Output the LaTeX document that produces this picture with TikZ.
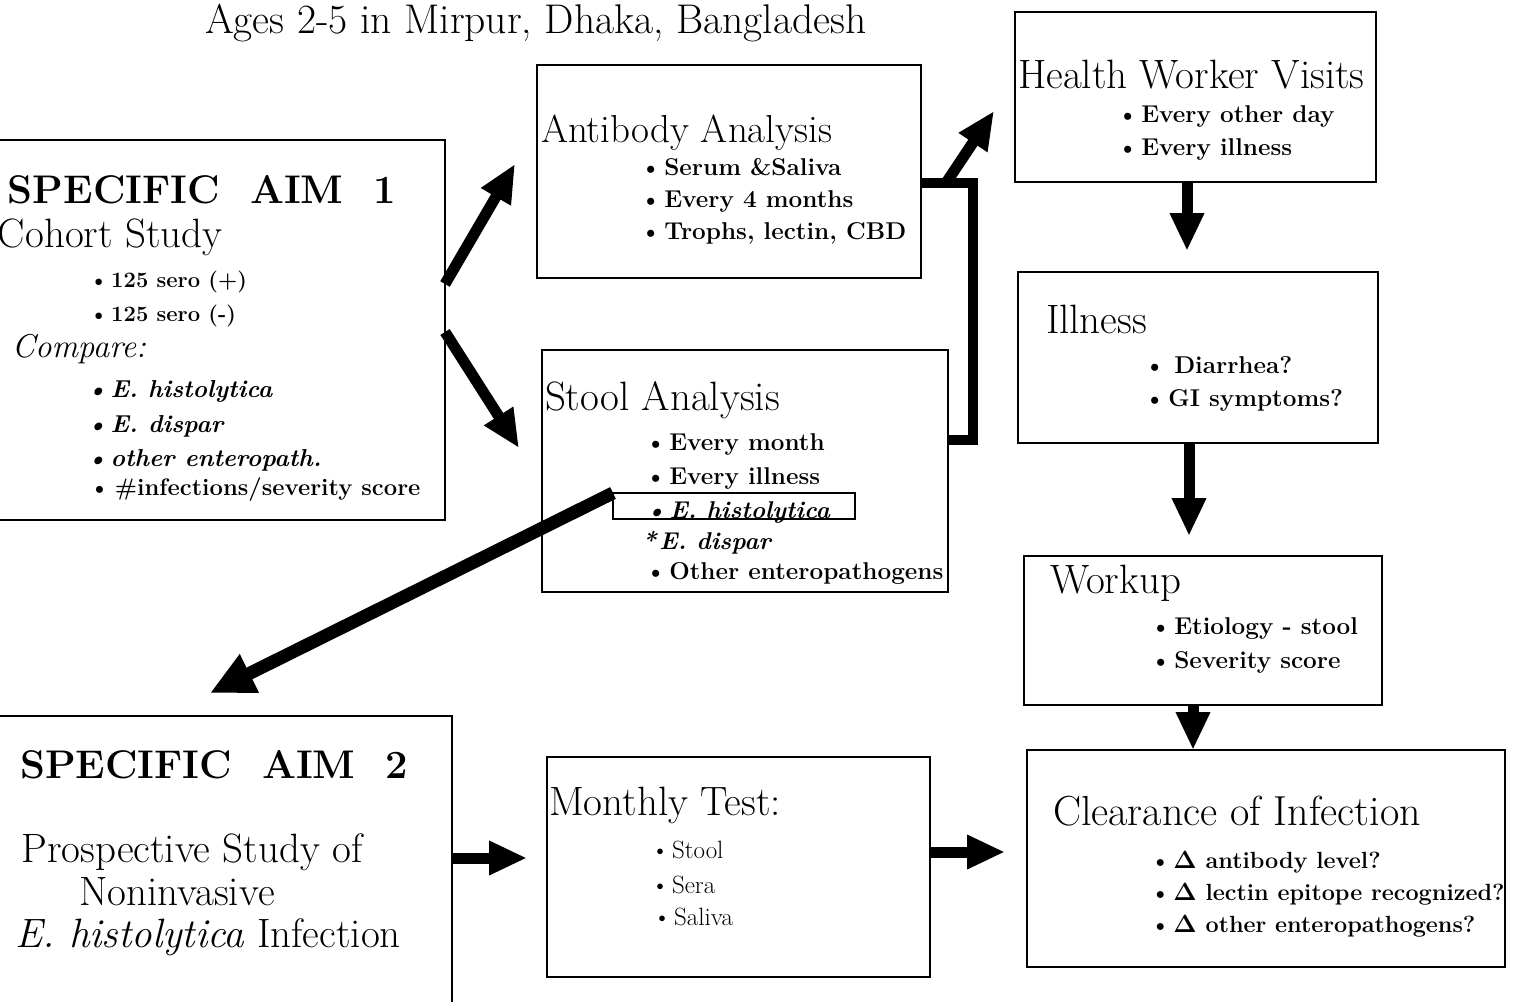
\documentclass[tikz,border=0pt]{standalone}
\usetikzlibrary{arrows.meta}
\newcommand\bu{\textbullet\kern3pt}
\begin{document}
\begin{tikzpicture}[x=1pt,y=-1pt,
  box/.style={draw, line width=2.2pt, anchor=north west, inner sep=0pt, outer sep=0pt},
  hlbox/.style={draw, line width=1.8pt, anchor=north west, inner sep=0pt, outer sep=0pt},
  txt/.style={anchor=base west, inner sep=0pt, outer sep=0pt},
  ctxt/.style={anchor=base, inner sep=0pt, outer sep=0pt, font=\fontsize{41}{44}\selectfont},
  title/.style={txt, font=\fontsize{41.5}{44}\selectfont},
  aim/.style={txt, font=\fontsize{40}{44}\selectfont\bfseries},
  hd/.style={txt, font=\fontsize{41}{44}\selectfont},
  bl/.style={txt, font=\fontsize{24.3}{27}\selectfont\bfseries},
  cbl/.style={txt, font=\fontsize{23.4}{26}\selectfont\bfseries},
  sbl/.style={txt, font=\fontsize{22}{24}\selectfont\bfseries},
  ibl/.style={txt, font=\fontsize{24.5}{27}\selectfont\bfseries\itshape},
  mbl/.style={txt, font=\fontsize{25}{28}\selectfont},
  arr/.style={line width=11pt, line cap=butt, -{Triangle[width=32pt,length=38pt]}},
  arrL/.style={line width=13pt, line cap=butt, -{Triangle[width=40pt,length=44pt]}},
  conn/.style={line width=10pt, line cap=butt, line join=miter}
]
\fill[white] (0,0) rectangle (1514,1001);
\useasboundingbox (0,0) rectangle (1514,1001);

% ---------- boxes ----------
\node[box, minimum width=465pt, minimum height=380pt] (aim1) at (-20,140) {};
\node[box, minimum width=384pt, minimum height=213pt] (ab)   at (537,65) {};
\node[box, minimum width=406pt, minimum height=242pt] (st)   at (542,350) {};
\node[hlbox, minimum width=242pt, minimum height=26pt] (hl)  at (613,493) {};
\node[box, minimum width=361pt, minimum height=170pt] (hw)   at (1015,12) {};
\node[box, minimum width=360pt, minimum height=171pt] (ill)  at (1018,272) {};
\node[box, minimum width=358pt, minimum height=149pt] (wk)   at (1024,556) {};
\node[box, minimum width=478pt, minimum height=217pt] (cl)   at (1027,750) {};
\node[box, minimum width=472pt, minimum height=310pt] (aim2) at (-20,716) {};
\node[box, minimum width=383pt, minimum height=220pt] (mt)   at (547,757) {};

% ---------- title ----------
\node[title] (ttl) at (205,33) {Ages 2-5 in Mirpur, Dhaka, Bangladesh};

% ---------- Specific aim 1 ----------
\node[aim] (a1h) at (8,203) {SPECIFIC\ \ AIM\ \ 1};
\node[hd] (a1s) at (-2,247) {Cohort Study};
\node[sbl] (a1b1) at (89,287) {\bu 125 sero (+)};
\node[sbl] (a1b2) at (89,321) {\bu 125 sero (-)};
\node[txt, font=\fontsize{33}{36}\selectfont\itshape] (a1c) at (12,357) {Compare:};
\node[ibl] (a1b3) at (86,397) {\bu E. histolytica};
\node[ibl] (a1b4) at (86,432) {\bu E. dispar};
\node[ibl] (a1b5) at (86,466) {\bu other enteropath.};
\node[txt, font=\fontsize{23.8}{26}\selectfont\bfseries] (a1b6) at (89,495) {\bu\kern2pt\#infections/severity score};

% ---------- Antibody analysis ----------
\node[hd, font=\fontsize{39}{42}\selectfont] (abh) at (541,142) {Antibody Analysis};
\node[bl] (ab1) at (640,175) {\bu Serum \&Saliva};
\node[bl] (ab2) at (640,207) {\bu Every 4 months};
\node[bl] (ab3) at (640,239) {\bu Trophs, lectin, CBD};

% ---------- Stool analysis ----------
\node[hd] (sth) at (545,410) {Stool Analysis};
\node[bl] (st1) at (645,450) {\bu Every month};
\node[bl] (st2) at (645,484) {\bu Every illness};
\node[ibl, font=\fontsize{24.3}{27}\selectfont\bfseries\itshape] (st3) at (645,518) {\bu E. histolytica};
\node[ibl, font=\fontsize{24.3}{27}\selectfont\bfseries\itshape] (st4) at (642,549) {*\kern3pt E. dispar};
\node[bl] (st5) at (645,579) {\bu Other enteropathogens};

% ---------- Health worker visits ----------
\node[hd] (hwh) at (1018,88) {Health Worker Visits};
\node[bl] (hw1) at (1117,122) {\bu Every other day};
\node[bl] (hw2) at (1117,155) {\bu Every illness};

% ---------- Illness ----------
\node[hd] (illh) at (1046,333) {Illness};
\node[bl] (ill1) at (1144,373) {\textbullet\kern9pt Diarrhea?};
\node[bl] (ill2) at (1144,406) {\bu GI symptoms?};

% ---------- Workup ----------
\node[hd] (wkh) at (1050,593) {Workup};
\node[bl] (wk1) at (1150,634) {\bu Etiology - stool};
\node[bl] (wk2) at (1150,668) {\bu Severity score};

% ---------- Clearance ----------
\node[hd, font=\fontsize{42}{45}\selectfont] (clh) at (1053,825) {Clearance of Infection};
\node[cbl] (cl1) at (1150,868) {\bu $\mathbf{\Delta}$ antibody level?};
\node[cbl] (cl2) at (1150,900) {\bu $\mathbf{\Delta}$ lectin epitope recognized?};
\node[cbl] (cl3) at (1150,932) {\bu $\mathbf{\Delta}$ other enteropathogens?};

% ---------- Specific aim 2 ----------
\node[aim] (a2h) at (20,778) {SPECIFIC\ \ AIM\ \ 2};
\node[ctxt] (a2l1) at (192,862) {Prospective Study of};
\node[ctxt] (a2l2) at (177,905) {Noninvasive};
\node[ctxt] (a2l3) at (208,947) {\textit{E. histolytica} Infection};

% ---------- Monthly test ----------
\node[hd] (mth) at (549,815) {Monthly Test:};
\node[mbl] (mt1) at (651,858) {\bu Stool};
\node[mbl] (mt2) at (651,893) {\bu Sera};
\node[mbl] (mt3) at (653,925) {\bu Saliva};

% ---------- connectors ----------
\coordinate (t1) at (515,164);
\coordinate (t2) at (519,448);
\draw[arr] ([yshift=46pt]aim1.east) -- (t1);
\draw[arr] ([yshift=-2pt]aim1.east) -- (t2);

\draw[conn] ([yshift=31pt]st.east) -- ++(25,0) |- ([yshift=-11.5pt]ab.east);
\coordinate (j) at (946,183);
\coordinate (t3) at (994,111);
\draw[arr] (j) -- (t3);

\coordinate (t4) at (210,693);
\draw[arrL] (hl.north west) -- (t4);

\coordinate (t5) at (1187,251);
\draw[arr] (hw.south -| t5) -- (t5);
\coordinate (t6) at (1189,536);
\draw[arr] (ill.south -| t6) -- (t6);
\coordinate (t7) at (1193,750);
\draw[arr] (wk.south -| t7) -- (t7);

\coordinate (t8) at (527,858);
\draw[arr] (aim2.east |- t8) -- (t8);
\coordinate (t9) at (1005,852);
\draw[arr] (mt.east |- t9) -- (t9);
\end{tikzpicture}
\end{document}
